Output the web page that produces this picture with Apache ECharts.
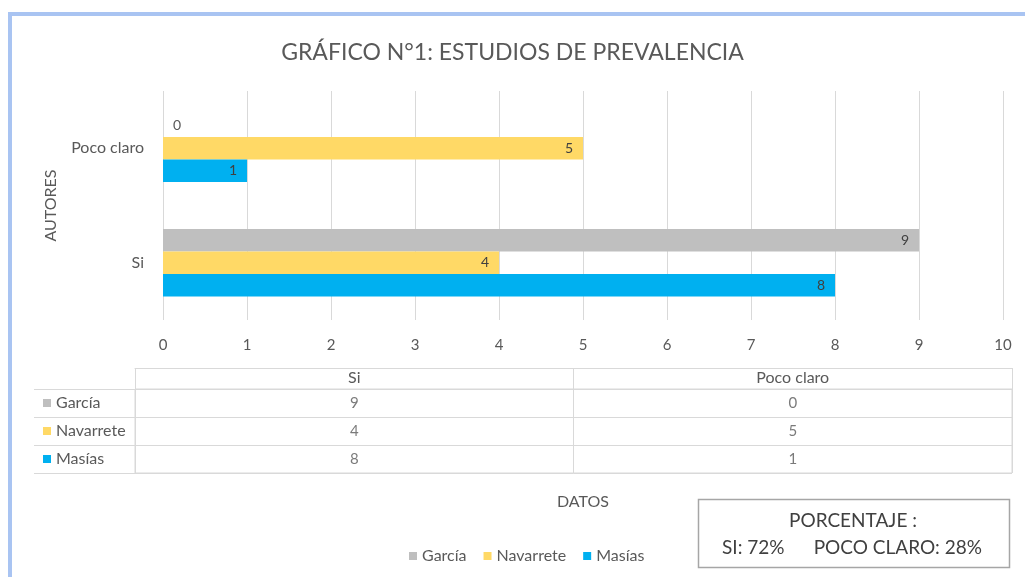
<!DOCTYPE html>
<html>
<head>
<meta charset="utf-8">
<script src="https://cdn.jsdelivr.net/npm/echarts@6/dist/echarts.min.js"></script>
<style>
  html, body { margin: 0; padding: 0; background: #fff; }
  #chart { width: 1025px; height: 577px; }
</style>
</head>
<body>
<div id="chart"></div>
<script>
// categories (bottom to top on the bar chart, left to right in the table)
const categories = ['Si', 'Poco claro'];
const seriesNames = ['García', 'Navarrete', 'Masías'];
const garcia = [9, 0];
const navarrete = [4, 5];
const masias = [8, 1];
const seriesColors = ['#bfbfbf', '#ffd966', '#00b0f0'];
const xTicks = { min: 0, max: 10, interval: 1 };
const summaryTitle = 'PORCENTAJE :';
const summaryText = 'SI: 72%      POCO CLARO: 28%';

const allValues = [garcia, navarrete, masias];
const font = 'Lato, "Open Sans", sans-serif';
const textColor = '#595959';

const chart = echarts.init(document.getElementById('chart'));

// bars: a zero bar shows its label just right of the axis
const barSeries = seriesNames.map((name, i) => ({
  name: name,
  type: 'bar',
  xAxisIndex: 0,
  yAxisIndex: 0,
  barGap: '0%',
  barCategoryGap: '41%',
  itemStyle: { color: seriesColors[i] },
  label: {
    show: true,
    position: 'insideRight',
    distance: 10,
    color: '#404040',
    fontSize: 14,
    fontFamily: font
  },
  data: allValues[i].map(v => v === 0
    ? { value: v, label: { position: 'right', distance: 10, color: textColor } }
    : v)
}));

// table cells under the chart
const tableCells = [];
allValues.forEach((vals, row) => {
  vals.forEach((v, col) => tableCells.push([col, row, v]));
});

const rich = {};
seriesColors.forEach((c, i) => {
  rich['s' + i] = { width: 8, height: 8, backgroundColor: c };
});
rich.t = { color: textColor, fontSize: 16, fontFamily: font, padding: [0, 0, 0, 5] };

const lineColor = '#d9d9d9';

const option = {
  textStyle: { fontFamily: font },
  title: {
    text: 'GRÁFICO N°1: ESTUDIOS DE PREVALENCIA',
    left: 'center',
    top: 36,
    textStyle: { fontSize: 23, fontWeight: 'normal', color: textColor, fontFamily: font }
  },
  legend: {
    data: seriesNames,
    left: 404,
    top: 543,
    icon: 'rect',
    itemWidth: 8,
    itemHeight: 8,
    itemGap: 17,
    textStyle: { color: textColor, fontSize: 16, fontFamily: font }
  },
  grid: [
    { left: 163, right: 22, top: 91, height: 229 },
    { left: 135, right: 13, top: 389, height: 84, show: true, borderColor: lineColor, borderWidth: 1 }
  ],
  xAxis: [
    {
      type: 'value',
      gridIndex: 0,
      min: xTicks.min,
      max: xTicks.max,
      interval: xTicks.interval,
      name: 'DATOS',
      nameLocation: 'middle',
      nameGap: 174,
      nameTextStyle: { color: textColor, fontSize: 16 },
      axisLine: { show: false },
      axisTick: { show: false },
      axisLabel: { color: textColor, fontSize: 15, margin: 18 },
      splitLine: { lineStyle: { color: lineColor } }
    },
    {
      type: 'category',
      gridIndex: 1,
      position: 'top',
      data: categories,
      axisLine: { lineStyle: { color: lineColor } },
      axisTick: { show: true, length: 21, interval: 0, lineStyle: { color: lineColor } },
      axisLabel: { color: textColor, fontSize: 16, margin: 3 },
      splitLine: { show: true, interval: 0, lineStyle: { color: lineColor } }
    },
    {
      type: 'category',
      gridIndex: 1,
      position: 'top',
      offset: 21,
      data: categories,
      axisLine: { lineStyle: { color: lineColor } },
      axisTick: { show: false },
      axisLabel: { show: false }
    }
  ],
  yAxis: [
    {
      type: 'category',
      gridIndex: 0,
      data: categories,
      name: 'AUTORES',
      nameLocation: 'middle',
      nameRotate: 90,
      nameGap: 104,
      nameTextStyle: { color: textColor, fontSize: 16 },
      axisLine: { show: false },
      axisTick: { show: false },
      axisLabel: { color: textColor, fontSize: 16, margin: 19 }
    },
    {
      type: 'category',
      gridIndex: 1,
      inverse: true,
      data: seriesNames,
      axisLine: { lineStyle: { color: lineColor } },
      axisTick: { show: true, length: 101, interval: 0, lineStyle: { color: lineColor } },
      axisLabel: {
        align: 'left',
        margin: 92,
        formatter: (value, idx) => '{s' + idx + '|}{t|' + value + '}',
        rich: rich
      },
      splitLine: { show: true, interval: 0, lineStyle: { color: lineColor } }
    },
    {
      type: 'category',
      gridIndex: 1,
      inverse: true,
      offset: 101,
      data: seriesNames,
      axisLine: { lineStyle: { color: lineColor } },
      axisTick: { show: false },
      axisLabel: { show: false }
    }
  ],
  series: barSeries.concat([{
    type: 'scatter',
    xAxisIndex: 1,
    yAxisIndex: 1,
    silent: true,
    symbolSize: 1,
    itemStyle: { color: 'rgba(0,0,0,0)' },
    label: {
      show: true,
      position: 'inside',
      color: textColor,
      fontSize: 15,
      fontFamily: font,
      formatter: p => p.value[2]
    },
    data: tableCells
  }]),
  graphic: [
    {
      type: 'rect',
      silent: true,
      shape: { x: 10, y: 14, width: 1100, height: 700 },
      style: { fill: 'none', stroke: '#a9c4f2', lineWidth: 4 }
    },
    {
      type: 'rect',
      silent: true,
      shape: { x: 698.5, y: 499.5, width: 311, height: 68 },
      style: { fill: '#fff', stroke: '#a6a6a6', lineWidth: 1.5 }
    },
    {
      type: 'text',
      silent: true,
      x: 853,
      y: 521,
      style: {
        text: summaryTitle,
        fill: '#404040',
        font: '19px ' + font,
        align: 'center',
        verticalAlign: 'middle'
      }
    },
    {
      type: 'text',
      silent: true,
      x: 852,
      y: 548,
      style: {
        text: summaryText,
        fill: '#404040',
        font: '19px ' + font,
        align: 'center',
        verticalAlign: 'middle'
      }
    }
  ]
};

chart.setOption(option);
</script>
</body>
</html>
